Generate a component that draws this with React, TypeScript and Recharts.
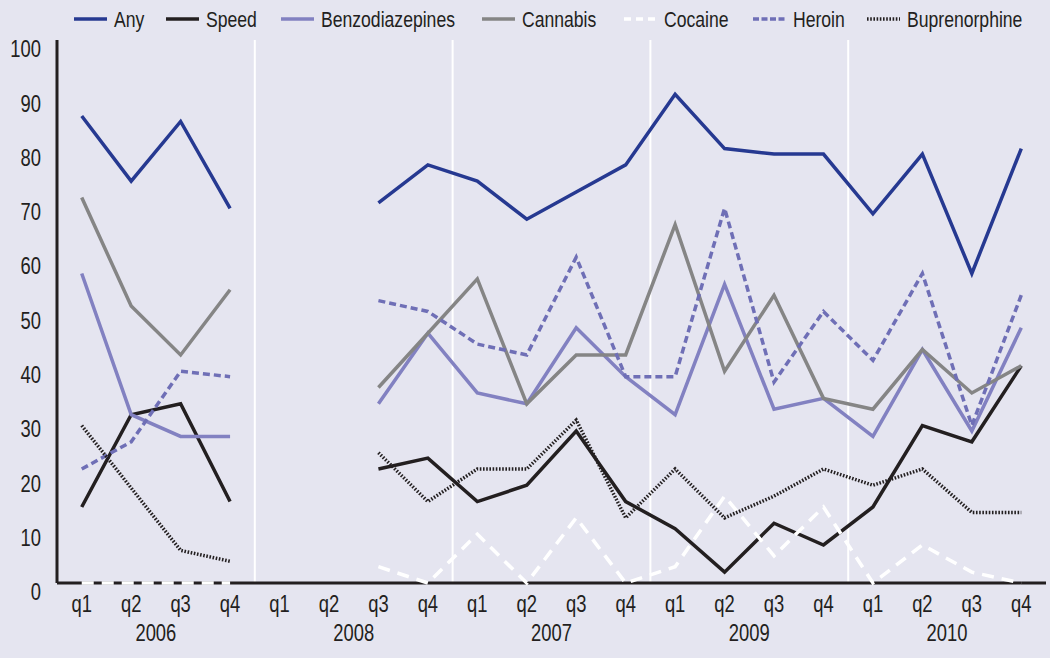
import React from "react";
import { LineChart, Line, XAxis, YAxis, ReferenceLine } from "recharts";

const BG = "#e5e5f0";
const INK = "#231f20";
const FONT = '"Liberation Sans", Arial, sans-serif';
const NARROW = 0.8; // squeeze Liberation Sans to look like a condensed face

const quarters = ["q1", "q2", "q3", "q4", "q1", "q2", "q3", "q4", "q1", "q2", "q3", "q4", "q1", "q2", "q3", "q4", "q1", "q2", "q3", "q4"];
const years = ["2006", "2008", "2007", "2009", "2010"];
const yTicks = [0, 10, 20, 30, 40, 50, 60, 70, 80, 90, 100];

// null = no survey that quarter
const anyUse = [86, 74, 85, 69, null, null, 70, 77, 74, 67, 72, 77, 90, 80, 79, 79, 68, 79, 57, 80];
const speed = [14, 31, 33, 15, null, null, 21, 23, 15, 18, 28, 15, 10, 2, 11, 7, 14, 29, 26, 40];
const benzo = [57, 31, 27, 27, null, null, 33, 46, 35, 33, 47, 38, 31, 55, 32, 34, 27, 43, 28, 47];
const cannabis = [71, 51, 42, 54, null, null, 36, 46, 56, 33, 42, 42, 66, 39, 53, 34, 32, 43, 35, 40];
const cocaine = [0, 0, 0, 0, null, null, 3, 0, 9, 0, 12, 0, 3, 16, 5, 14, 0, 7, 2, 0];
const heroin = [21, 26, 39, 38, null, null, 52, 50, 44, 42, 60, 38, 38, 69, 37, 50, 41, 57, 29, 53];
const bupre = [29, 17.5, 6, 4, null, null, 24, 15, 21, 21, 30, 12, 21, 12, 16, 21, 18, 21, 13, 13];

const data = quarters.map((q, i) => ({
  i,
  any: anyUse[i],
  speed: speed[i],
  benzo: benzo[i],
  cannabis: cannabis[i],
  cocaine: cocaine[i],
  heroin: heroin[i],
  bupre: bupre[i],
}));

type S = { key: string; label: string; color: string; dash?: string; keyDash?: string; lx: number };
const series: S[] = [
  { key: "any", label: "Any", color: "#263991", lx: 74 },
  { key: "speed", label: "Speed", color: INK, lx: 166 },
  { key: "benzo", label: "Benzodiazepines", color: "#8281c1", lx: 281 },
  { key: "cannabis", label: "Cannabis", color: "#858585", lx: 482 },
  { key: "cocaine", label: "Cocaine", color: "#ffffff", dash: "12 8", keyDash: "7 5", lx: 624 },
  { key: "heroin", label: "Heroin", color: "#6f6fb6", dash: "7 4", keyDash: "6 2.5", lx: 753 },
  { key: "bupre", label: "Buprenorphine", color: INK, dash: "1.6 1.6", lx: 867 },
];

function Txt({ x, y, anchor, size = 23, children }: { x: number; y: number; anchor: string; size?: number; children: any }) {
  return (
    <text
      transform={`translate(${x},${y}) scale(${NARROW},1)`}
      textAnchor={anchor}
      dominantBaseline="central"
      fill={INK}
      fontSize={size}
      fontFamily={FONT}
    >
      {children}
    </text>
  );
}

const XTick = (props: any) => {
  const { x, y, payload } = props;
  const i = payload.value as number;
  return (
    <g>
      <Txt x={x} y={y + 21} anchor="middle">{quarters[i]}</Txt>
      {i % 4 === 1 && (
        <Txt x={x + 24.7} y={y + 50} anchor="middle">{years[Math.floor(i / 4)]}</Txt>
      )}
    </g>
  );
};

const YTick = (props: any) => {
  const { x, y, payload } = props;
  return <Txt x={x} y={y + 9} anchor="end">{payload.value}</Txt>;
};

function LegendRow() {
  return (
    <svg width={1050} height={36} style={{ position: "absolute", left: 0, top: 0 }}>
      {series.map((s) => (
        <g key={s.key}>
          <line x1={s.lx} y1={19} x2={s.lx + 33} y2={19} stroke={s.color} strokeWidth={3.5} strokeDasharray={s.keyDash ?? s.dash} />
          <Txt x={s.lx + 40} y={19} anchor="start" size={22}>{s.label}</Txt>
        </g>
      ))}
    </svg>
  );
}

export default function App() {
  return (
    <div style={{ position: "fixed", left: 0, top: 0, width: 1050, height: 658, background: BG }}>
      <LineChart width={1050} height={658} data={data} margin={{ top: 40, right: 4, left: 0, bottom: 0 }}>
        <XAxis
          dataKey="i"
          type="number"
          domain={[-0.5, 19.5]}
          ticks={quarters.map((_, i) => i)}
          interval={0}
          height={75}
          tickLine={false}
          tickSize={0}
          tickMargin={0}
          axisLine={false}
          tick={<XTick />}
        />
        <YAxis
          domain={[0, 100]}
          ticks={yTicks}
          width={57}
          tickLine={false}
          tickSize={0}
          tickMargin={16}
          axisLine={{ stroke: INK, strokeWidth: 3 }}
          tick={<YTick />}
        />
        {[3.5, 7.5, 11.5, 15.5].map((v) => (
          <ReferenceLine key={v} x={v} stroke="#ffffff" strokeWidth={2} />
        ))}
        <ReferenceLine y={0} stroke={INK} strokeWidth={3} />
        {series.map((s) => (
          <Line
            key={s.key}
            dataKey={s.key}
            name={s.label}
            stroke={s.color}
            strokeWidth={3.5}
            strokeDasharray={s.dash}
            dot={false}
            activeDot={false}
            connectNulls={false}
            isAnimationActive={false}
          />
        ))}
      </LineChart>
      <LegendRow />
    </div>
  );
}
